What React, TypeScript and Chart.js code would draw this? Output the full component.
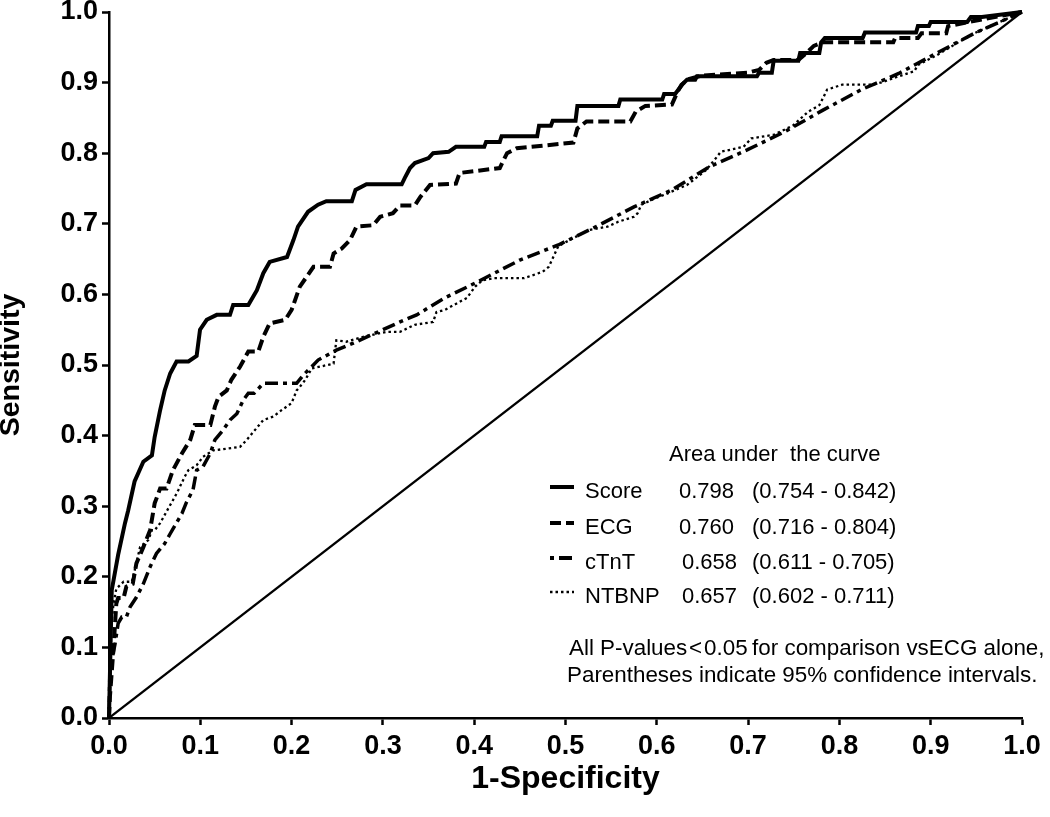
import React, { useEffect, useRef } from 'react';
import { Chart, registerables } from 'chart.js';

Chart.register(...registerables);

const FONT = '"Liberation Sans", Arial, Helvetica, sans-serif';

// Axis ticks
const tickValues = [0, 0.1, 0.2, 0.3, 0.4, 0.5, 0.6, 0.7, 0.8, 0.9, 1.0];
const tickLabels = ['0.0', '0.1', '0.2', '0.3', '0.4', '0.5', '0.6', '0.7', '0.8', '0.9', '1.0'];

const xTitle = '1-Specificity';
const yTitle = 'Sensitivity';

// Series: [1-specificity, sensitivity]
const scorePoints: [number, number][] = [
  [0, 0], [0.003, 0.181], [0.01, 0.231], [0.0175, 0.276], [0.021, 0.294], [0.028, 0.335],
  [0.0376, 0.363], [0.047, 0.372], [0.05, 0.398], [0.056, 0.436], [0.061, 0.464], [0.067, 0.488],
  [0.074, 0.505], [0.087, 0.505], [0.096, 0.513], [0.0997, 0.55], [0.107, 0.564], [0.118, 0.571],
  [0.1325, 0.571], [0.136, 0.585], [0.1526, 0.585], [0.162, 0.606], [0.169, 0.63], [0.176, 0.646],
  [0.195, 0.653], [0.202, 0.677], [0.207, 0.696], [0.218, 0.717], [0.229, 0.727], [0.238, 0.732],
  [0.266, 0.732], [0.27, 0.748], [0.282, 0.756], [0.3206, 0.756], [0.324, 0.765], [0.3297, 0.779],
  [0.335, 0.786], [0.35, 0.793], [0.355, 0.8], [0.372, 0.802], [0.38, 0.809], [0.411, 0.809],
  [0.413, 0.816], [0.428, 0.816], [0.43, 0.824], [0.469, 0.824], [0.471, 0.839], [0.484, 0.839],
  [0.486, 0.846], [0.511, 0.846], [0.513, 0.867], [0.558, 0.867], [0.56, 0.876], [0.606, 0.876],
  [0.608, 0.884], [0.62, 0.884], [0.629, 0.899], [0.633, 0.904], [0.642, 0.904], [0.644, 0.909],
  [0.7097, 0.909], [0.712, 0.914], [0.726, 0.914], [0.728, 0.931], [0.755, 0.931], [0.757, 0.942],
  [0.778, 0.942], [0.78, 0.957], [0.784, 0.963], [0.8255, 0.963], [0.828, 0.971], [0.884, 0.971],
  [0.886, 0.98], [0.898, 0.98], [0.9, 0.986], [0.94, 0.986], [0.944, 0.993], [0.956, 0.993], [1, 1],
];

const ecgPoints: [number, number][] = [
  [0, 0], [0.001, 0.03], [0.005, 0.1], [0.008, 0.162], [0.01, 0.17], [0.016, 0.17], [0.019, 0.186],
  [0.026, 0.19], [0.03, 0.219], [0.0376, 0.242], [0.045, 0.266], [0.05, 0.304], [0.056, 0.325],
  [0.063, 0.325], [0.07, 0.351], [0.08, 0.375], [0.089, 0.394], [0.094, 0.415], [0.111, 0.415],
  [0.116, 0.441], [0.12, 0.455], [0.129, 0.464], [0.134, 0.479], [0.1435, 0.4975], [0.1526, 0.519],
  [0.1635, 0.519], [0.169, 0.54], [0.176, 0.559], [0.193, 0.564], [0.2, 0.578], [0.209, 0.611],
  [0.2165, 0.625], [0.224, 0.639], [0.242, 0.639], [0.246, 0.658], [0.255, 0.665], [0.264, 0.677],
  [0.271, 0.696], [0.2895, 0.698], [0.297, 0.71], [0.311, 0.715], [0.3187, 0.726], [0.335, 0.726],
  [0.341, 0.738], [0.3516, 0.755], [0.38, 0.757], [0.384, 0.772], [0.428, 0.779], [0.436, 0.8],
  [0.4465, 0.807], [0.5087, 0.815], [0.513, 0.835], [0.523, 0.845], [0.571, 0.845], [0.577, 0.859],
  [0.5875, 0.867], [0.6165, 0.869], [0.6227, 0.887], [0.627, 0.897], [0.635, 0.905], [0.6495, 0.91],
  [0.6995, 0.914], [0.712, 0.918], [0.72, 0.928], [0.728, 0.932], [0.755, 0.932], [0.764, 0.942],
  [0.772, 0.952], [0.782, 0.957], [0.859, 0.957], [0.861, 0.963], [0.886, 0.963], [0.89, 0.97],
  [0.917, 0.97], [0.919, 0.98], [0.942, 0.986], [0.958, 0.99], [1, 1],
];

const ctntPoints: [number, number][] = [
  [0, 0], [0.001, 0.068], [0.0066, 0.105], [0.01, 0.134], [0.014, 0.143], [0.019, 0.143],
  [0.023, 0.157], [0.03, 0.171], [0.0376, 0.19], [0.045, 0.214], [0.052, 0.233], [0.061, 0.247],
  [0.067, 0.261], [0.08, 0.29], [0.085, 0.306], [0.092, 0.323], [0.096, 0.351], [0.103, 0.356],
  [0.111, 0.375], [0.116, 0.394], [0.125, 0.408], [0.1325, 0.422], [0.14, 0.431], [0.147, 0.45],
  [0.1526, 0.46], [0.159, 0.46], [0.169, 0.474], [0.2055, 0.474], [0.213, 0.486], [0.222, 0.4975],
  [0.229, 0.507], [0.249, 0.521], [0.2676, 0.531], [0.3, 0.55], [0.3187, 0.561], [0.337, 0.571],
  [0.3677, 0.595], [0.401, 0.616], [0.4506, 0.649], [0.4921, 0.67], [0.5335, 0.696], [0.575, 0.724],
  [0.6165, 0.748], [0.658, 0.781], [0.6995, 0.805], [0.741, 0.831], [0.782, 0.861], [0.824, 0.89],
  [0.865, 0.913], [0.907, 0.942], [0.948, 0.97], [1, 1],
];

const ntbnpPoints: [number, number][] = [
  [0, 0], [0.001, 0.115], [0.005, 0.162], [0.008, 0.183], [0.016, 0.193], [0.025, 0.193],
  [0.03, 0.219], [0.034, 0.242], [0.043, 0.252], [0.047, 0.266], [0.05, 0.266], [0.056, 0.276],
  [0.065, 0.297], [0.072, 0.313], [0.076, 0.323], [0.083, 0.342], [0.087, 0.351], [0.096, 0.358],
  [0.103, 0.37], [0.114, 0.379], [0.1435, 0.384], [0.151, 0.394], [0.158, 0.405], [0.169, 0.422],
  [0.18, 0.427], [0.189, 0.436], [0.2, 0.446], [0.2055, 0.464], [0.209, 0.469], [0.215, 0.479],
  [0.222, 0.495], [0.246, 0.502], [0.249, 0.535], [0.26, 0.533], [0.2785, 0.54], [0.304, 0.547],
  [0.3187, 0.547], [0.335, 0.557], [0.355, 0.561], [0.3587, 0.575], [0.3677, 0.578], [0.392, 0.595],
  [0.401, 0.611], [0.409, 0.62], [0.4215, 0.623], [0.4547, 0.623], [0.475, 0.632], [0.4817, 0.639],
  [0.492, 0.668], [0.5045, 0.677], [0.525, 0.691], [0.546, 0.696], [0.558, 0.703], [0.575, 0.71],
  [0.579, 0.715], [0.583, 0.727], [0.598, 0.736], [0.608, 0.741], [0.633, 0.755], [0.654, 0.776],
  [0.666, 0.795], [0.67, 0.802], [0.695, 0.809], [0.7035, 0.821], [0.728, 0.826], [0.749, 0.839],
  [0.766, 0.859], [0.778, 0.868], [0.782, 0.878], [0.7865, 0.89], [0.803, 0.897], [0.836, 0.897],
  [0.848, 0.901], [0.865, 0.909], [0.882, 0.916], [0.886, 0.925], [0.907, 0.939], [0.9275, 0.955],
  [0.948, 0.97], [1, 1],
];

const referencePoints: [number, number][] = [[0, 0], [1, 1]];

// Legend content
const legendTitle = 'Area under  the curve';
const seriesNames = ['Score', 'ECG', 'cTnT', 'NTBNP'];
const aucValues = ['0.798', '0.760', '0.658', '0.657'];
const ciValues = ['(0.754 - 0.842)', '(0.716 - 0.804)', '(0.611 - 0.705)', '(0.602 - 0.711)'];
const noteLines = [
  'All P-values\u200A<\u200A0.05\u2009for comparison vsECG alone,',
  'Parentheses indicate 95% confidence intervals.',
];

const seriesDash: number[][] = [[], [11, 5], [4, 5, 13, 5], [2.5, 3]];
const seriesWidth = [4, 4, 3.5, 2.3];

const toXY = (pts: [number, number][]) => pts.map(([x, y]) => ({ x, y }));

const aucLegendPlugin = {
  id: 'aucLegend',
  afterDraw(chart: any) {
    const ctx = chart.ctx as CanvasRenderingContext2D;
    ctx.save();
    ctx.fillStyle = '#000';
    ctx.strokeStyle = '#000';
    ctx.textBaseline = 'alphabetic';
    ctx.textAlign = 'left';
    ctx.font = `22px ${FONT}`;
    ctx.fillText(legendTitle, 669, 461);
    const rowBase = [498, 534, 569, 603];
    seriesNames.forEach((name, i) => {
      const base = rowBase[i];
      const ly = base - 11;
      ctx.beginPath();
      ctx.setLineDash(seriesDash[i]);
      ctx.lineWidth = i === 3 ? 2.5 : 4;
      ctx.moveTo(550, ly);
      ctx.lineTo(574, ly);
      ctx.stroke();
      ctx.setLineDash([]);
      ctx.fillText(name, 585, base);
      ctx.fillText(aucValues[i], i < 2 ? 679 : 682, base);
      ctx.fillText(ciValues[i], 752, base);
    });
    ctx.font = `22.4px ${FONT}`;
    ctx.fillText(noteLines[0], 569, 655);
    ctx.fillText(noteLines[1], 567, 682);
    ctx.restore();
  },
};

export default function App() {
  const canvasRef = useRef<HTMLCanvasElement | null>(null);

  useEffect(() => {
    if (!canvasRef.current) return;
    const lineDs = (label: string, pts: [number, number][], i: number) => ({
      label,
      data: toXY(pts),
      borderColor: '#000',
      backgroundColor: '#000',
      borderWidth: seriesWidth[i],
      borderDash: seriesDash[i],
      pointRadius: 0,
      tension: 0,
      fill: false,
      clip: 4,
    });
    const chart = new Chart(canvasRef.current, {
      type: 'line',
      data: {
        datasets: [
          {
            label: 'Reference',
            data: toXY(referencePoints),
            borderColor: '#000',
            borderWidth: 2.2,
            pointRadius: 0,
            fill: false,
          },
          lineDs(seriesNames[3], ntbnpPoints, 3),
          lineDs(seriesNames[2], ctntPoints, 2),
          lineDs(seriesNames[1], ecgPoints, 1),
          lineDs(seriesNames[0], scorePoints, 0),
        ],
      },
      options: {
        responsive: false,
        animation: false,
        layout: { padding: { left: 0, right: 28, top: 12, bottom: 0 } },
        plugins: {
          legend: { display: false },
          tooltip: { enabled: false },
        },
        elements: { point: { radius: 0 } },
        scales: {
          x: {
            type: 'linear',
            min: 0,
            max: 1,
            afterBuildTicks: (s: any) => {
              s.ticks = tickValues.map((v) => ({ value: v }));
            },
            afterFit: (s: any) => {
              s.height = 99;
              s.paddingLeft = 0;
              s.paddingRight = 0;
            },
            ticks: {
              autoSkip: false,
              maxRotation: 0,
              padding: 5,
              color: '#000',
              font: { family: FONT, size: 27, weight: 'bold' },
              callback: (_v: any, i: number) => tickLabels[i],
            },
            grid: {
              drawOnChartArea: false,
              tickLength: 7,
              tickWidth: 2.5,
              tickColor: '#000',
              color: '#000',
            },
            border: { display: true, color: '#000', width: 2.5 },
            title: {
              display: true,
              text: xTitle,
              color: '#000',
              font: { family: FONT, size: 32, weight: 'bold', lineHeight: 1.2 },
              padding: { top: 0, bottom: 19 },
            },
          },
          y: {
            type: 'linear',
            min: 0,
            max: 1,
            afterBuildTicks: (s: any) => {
              s.ticks = tickValues.map((v) => ({ value: v }));
            },
            afterFit: (s: any) => {
              s.width = 109;
              s.paddingTop = 0;
              s.paddingBottom = 0;
            },
            ticks: {
              autoSkip: false,
              padding: 4,
              color: '#000',
              font: { family: FONT, size: 27, weight: 'bold' },
              callback: (_v: any, i: number) => tickLabels[i],
            },
            grid: {
              drawOnChartArea: false,
              tickLength: 7,
              tickWidth: 2.5,
              tickColor: '#000',
              color: '#000',
            },
            border: { display: true, color: '#000', width: 2.5 },
            title: {
              display: true,
              text: yTitle,
              color: '#000',
              font: { family: FONT, size: 28.5, weight: 'bold', lineHeight: 0.8 },
              padding: { top: 0, bottom: 0 },
            },
          },
        },
      } as any,
      plugins: [aucLegendPlugin],
    });
    return () => chart.destroy();
  }, []);

  return (
    <div style={{ position: 'absolute', left: 0, top: 0, width: 1050, height: 817, background: '#fff' }}>
      <canvas ref={canvasRef} width={1050} height={817} style={{ display: 'block' }} />
    </div>
  );
}
